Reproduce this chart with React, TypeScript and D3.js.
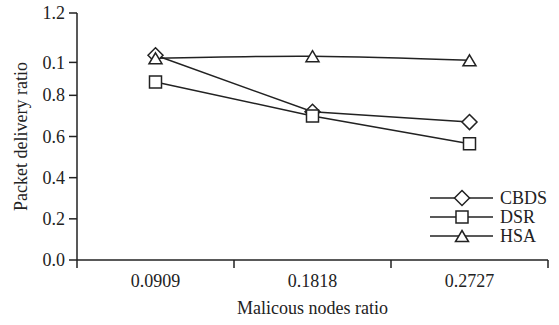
import React from "react";
import * as d3 from "d3";

const categories = ["0.0909", "0.1818", "0.2727"];
const cbds = [0.995, 0.72, 0.67];
const dsr = [0.865, 0.7, 0.565];
const hsa = [0.98, 0.99, 0.97];
const seriesNames = ["CBDS", "DSR", "HSA"];
const yTickValues = [0, 0.2, 0.4, 0.6, 0.8, 0.96, 1.2];
const yTickLabels = ["0.0", "0.2", "0.4", "0.6", "0.8", "0.1", "1.2"];

const W = 559;
const H = 325;
const left = 77;
const right = 548;
const top = 13;
const bottom = 260;
const ink = "#222";
const font = "Liberation Serif, DejaVu Serif, serif";

const markerPath = (kind: string, cx: number, cy: number) => {
  if (kind === "diamond") {
    const r = 7.5;
    return `M${cx},${cy - r}L${cx + r},${cy}L${cx},${cy + r}L${cx - r},${cy}Z`;
  }
  if (kind === "square") {
    const s = 6;
    return `M${cx - s},${cy - s}H${cx + s}V${cy + s}H${cx - s}Z`;
  }
  const hw = 6.5;
  const hh = 5.5;
  return `M${cx},${cy - hh}L${cx + hw},${cy + hh}L${cx - hw},${cy + hh}Z`;
};

export default function App() {
  const x = d3.scaleBand<string>().domain(categories).range([left, right]).padding(0);
  const y = d3.scaleLinear().domain([0, 1.2]).range([bottom, top]);
  const cx = (c: string) => (x(c) || 0) + x.bandwidth() / 2;

  const series = [
    { name: seriesNames[0], values: cbds, marker: "diamond", curve: d3.curveLinear },
    { name: seriesNames[1], values: dsr, marker: "square", curve: d3.curveLinear },
    { name: seriesNames[2], values: hsa, marker: "triangle", curve: d3.curveCatmullRom.alpha(0.5) },
  ];

  const legendY = [198, 217, 236];
  const txt = { fontFamily: font, fontSize: 18, fill: ink };

  return (
    <svg
      width={W}
      height={H}
      style={{ position: "absolute", left: 0, top: 0, background: "#fff", fontFamily: font }}
    >
      <rect width={W} height={H} fill="#fff" />
      {/* axes */}
      <line x1={left} x2={left} y1={top} y2={bottom + 8} stroke={ink} strokeWidth={1.5} />
      <line x1={left} x2={right} y1={bottom} y2={bottom} stroke={ink} strokeWidth={1.5} />
      {yTickValues.map((v, i) => (
        <g key={i}>
          <line x1={left - 8} x2={left} y1={y(v)} y2={y(v)} stroke={ink} strokeWidth={1.5} />
          <text x={left - 12} y={y(v)} dy="0.34em" textAnchor="end" style={txt}>
            {yTickLabels[i]}
          </text>
        </g>
      ))}
      {categories.map((c) => (
        <g key={c}>
          <line
            x1={(x(c) || 0) + x.bandwidth()}
            x2={(x(c) || 0) + x.bandwidth()}
            y1={bottom}
            y2={bottom + 8}
            stroke={ink}
            strokeWidth={1.5}
          />
          <text x={cx(c)} y={287} textAnchor="middle" style={txt}>
            {c}
          </text>
        </g>
      ))}
      <text x={(left + right) / 2} y={314} textAnchor="middle" style={txt}>
        Malicous nodes ratio
      </text>
      <text
        transform={`translate(27,${(top + bottom) / 2}) rotate(-90)`}
        textAnchor="middle"
        style={txt}
      >
        Packet delivery ratio
      </text>

      {/* lines */}
      {series.map((s) => {
        const line = d3
          .line<number>()
          .x((_, i) => cx(categories[i]))
          .y((d) => y(d))
          .curve(s.curve);
        return <path key={s.name} d={line(s.values) || ""} fill="none" stroke={ink} strokeWidth={1.5} />;
      })}
      {/* markers */}
      {series.map((s) =>
        s.values.map((v, i) => (
          <path
            key={s.name + i}
            d={markerPath(s.marker, cx(categories[i]), y(v))}
            fill="#fff"
            stroke={ink}
            strokeWidth={1.5}
          />
        ))
      )}

      {/* legend */}
      {series.map((s, i) => (
        <g key={"lg" + s.name}>
          <line x1={430} x2={493} y1={legendY[i]} y2={legendY[i]} stroke={ink} strokeWidth={1.5} />
          <path d={markerPath(s.marker, 462, legendY[i])} fill="#fff" stroke={ink} strokeWidth={1.5} />
          <text x={500} y={legendY[i]} dy="0.34em" style={txt}>
            {s.name}
          </text>
        </g>
      ))}
    </svg>
  );
}
